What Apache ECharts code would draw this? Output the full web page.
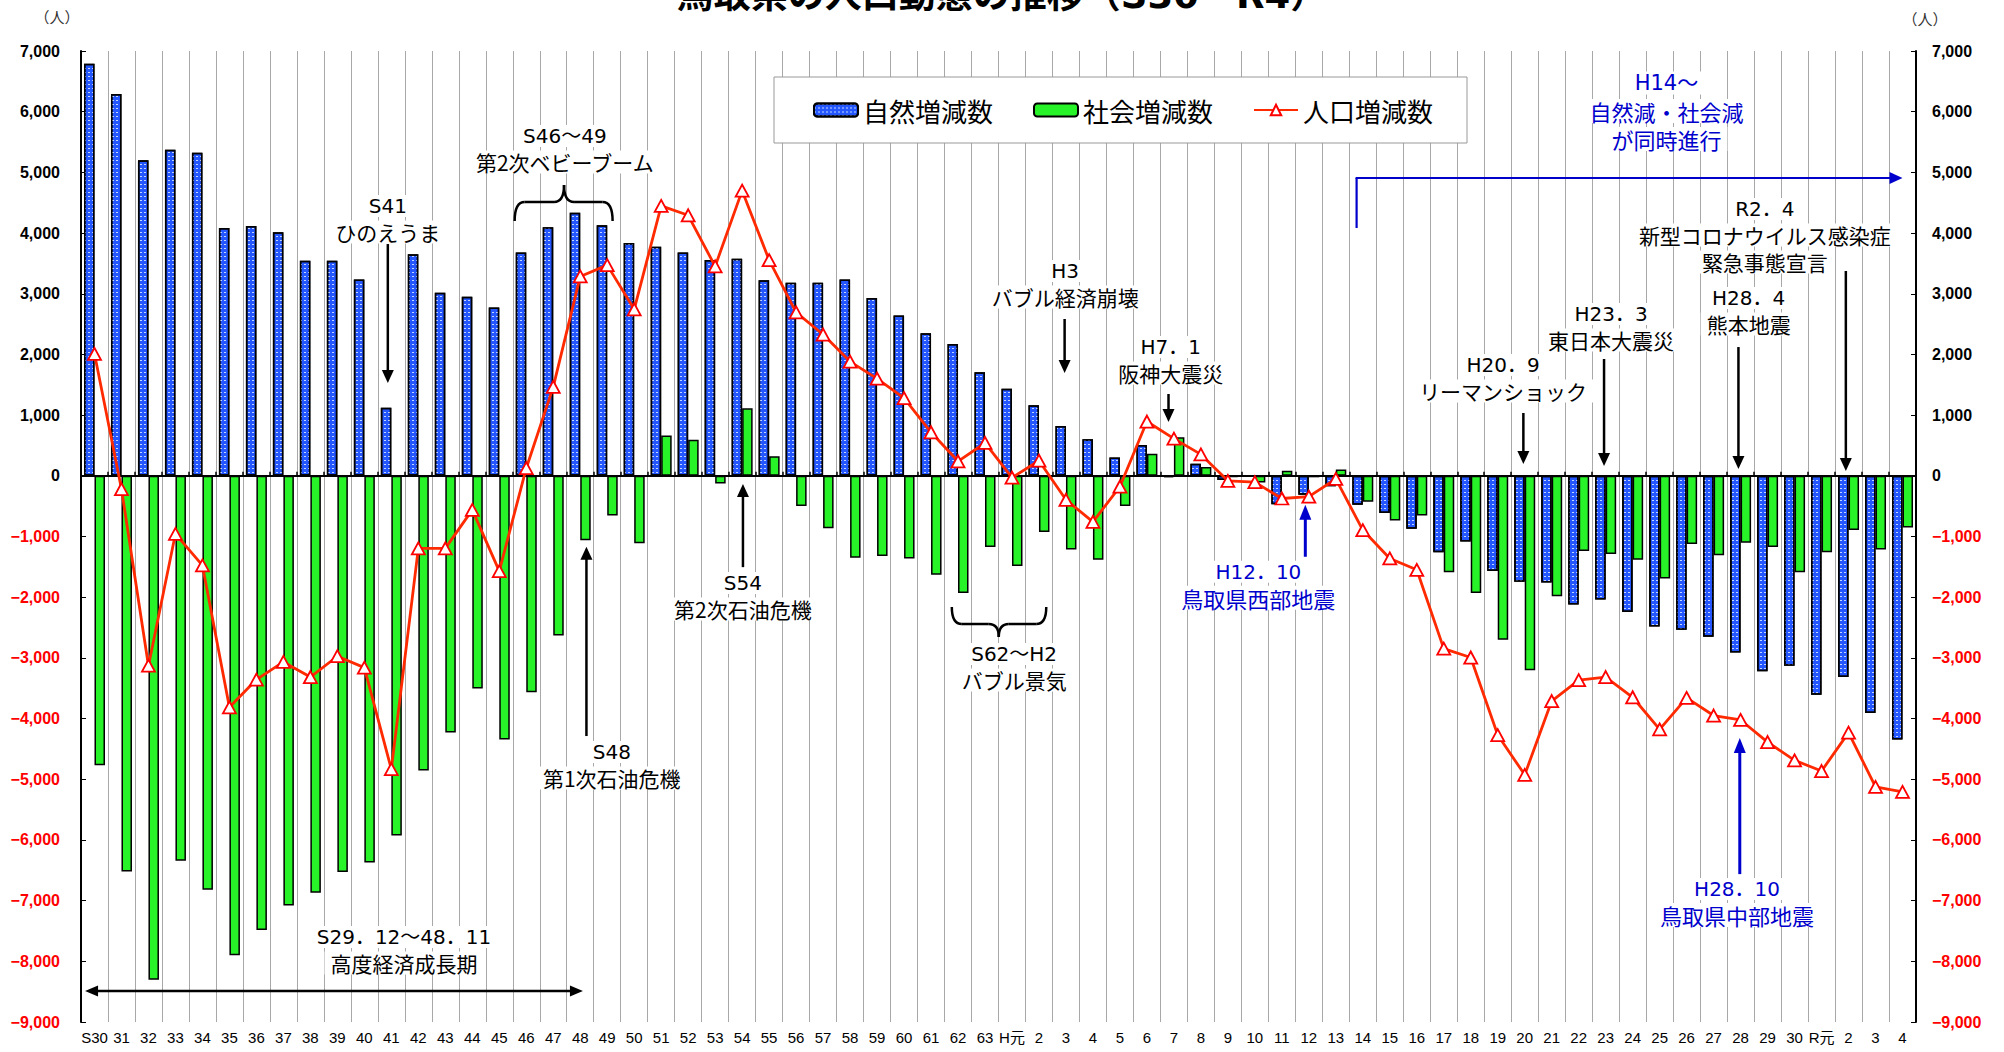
<!DOCTYPE html>
<html><head><meta charset="utf-8">
<script src="https://cdn.jsdelivr.net/npm/echarts@6/dist/echarts.min.js"></script>
<style>html,body{margin:0;padding:0;background:#fff}#c{width:2004px;height:1052px}</style>
</head><body><div id="c"></div>
<script>
const categories = ['S30','S31','S32','S33','S34','S35','S36','S37','S38','S39','S40','S41','S42','S43','S44','S45','S46','S47','S48','S49','S50','S51','S52','S53','S54','S55','S56','S57','S58','S59','S60','S61','S62','S63',
 'H1','H2','H3','H4','H5','H6','H7','H8','H9','H10','H11','H12','H13','H14','H15','H16','H17','H18','H19','H20','H21','H22','H23','H24','H25','H26','H27','H28','H29','H30',
 'R1','R2','R3','R4'];
const tickLabels = ['S30','31','32','33','34','35','36','37','38','39','40','41','42','43','44','45','46','47','48','49','50','51','52','53','54','55','56','57','58','59','60','61','62','63',
 'H元','2','3','4','5','6','7','8','9','10','11','12','13','14','15','16','17','18','19','20','21','22','23','24','25','26','27','28','29','30',
 'R元','2','3','4'];
// 自然増減数
const natural = [6790,6290,5200,5374,5322,4085,4116,4012,3545,3545,3233,1123,3649,3015,2952,2775,3680,4096,4335,4127,3836,3773,3680,3555,3576,3222,3181,3181,3233,2931,2640,2349,2173,1705,
 1435,1164,821,603,301,509,-20,198,-70,-5,-468,-312,-170,-478,-613,-873,-1258,-1081,-1570,-1746,-1757,-2121,-2037,-2245,-2484,-2536,-2651,-2911,-3222,-3129,
 -3607,-3316,-3909,-4345];
// 社会増減数
const social = [-4770,-6520,-8305,-6341,-6819,-7900,-7484,-7079,-6871,-6528,-6372,-5925,-4854,-4231,-3503,-4345,-3565,-2630,-1060,-655,-1112,665,593,-125,1112,322,-499,-863,-1351,-1320,-1362,-1632,-1933,-1175,
 -1486,-925,-1216,-1383,-499,364,634,146,-20,-110,83,-25,105,-426,-738,-655,-1590,-1933,-2703,-3202,-1985,-1237,-1289,-1383,-1694,-1123,-1310,-1102,-1175,-1590,
 -1258,-894,-1216,-852];
// 人口増減数
const total = [2010,-218,-3129,-956,-1476,-3815,-3358,-3067,-3316,-2973,-3160,-4834,-1195,-1195,-561,-1570,125,1466,3285,3472,2744,4449,4293,3451,4699,3555,2692,2328,1882,1601,1279,717,239,541,
 -31,249,-395,-759,-177,894,613,353,-83,-104,-374,-343,-52,-894,-1362,-1549,-2848,-2994,-4272,-4927,-3711,-3368,-3316,-3649,-4179,-3659,-3950,-4023,-4387,-4688,
 -4865,-4231,-5125,-5208];
const seriesNames = ['自然増減数','社会増減数','人口増減数'];
const yMin = -9000, yMax = 7000, yStep = 1000;
const titleText = '鳥取県の人口動態の推移（S30～R4）';

// annotations anchored to (category index, axis value)
const notes = [
  {lines:['S41','ひのえうま'], ix:10.87, v:4445},
  {lines:['S46～49','第2次ベビーブーム'], ix:17.43, v:5599},
  {lines:['S48','第1次石油危機'], ix:19.17, v:-4551},
  {lines:['S54','第2次石油危機'], ix:24.03, v:-1768},
  {lines:['S29．12～48．11','高度経済成長期'], ix:11.47, v:-7599},
  {lines:['S62～H2','バブル景気'], ix:34.08, v:-2936},
  {lines:['H3','バブル経済崩壊'], ix:35.97, v:3375},
  {lines:['H7．1','阪神大震災'], ix:39.88, v:2122},
  {lines:['H12．10','鳥取県西部地震'], ix:43.13, v:-1581, blue:true},
  {lines:['H14～','自然減・社会減','が同時進行'], ix:58.25, v:6472, blue:true, big:true},
  {lines:['H20．9','リーマンショック'], ix:52.2, v:1826},
  {lines:['H23．3','東日本大震災'], ix:56.2, v:2666},
  {lines:['H28．4','熊本地震'], ix:61.3, v:2930},
  {lines:['R2．4','新型コロナウイルス感染症','緊急事態宣言'], ix:61.9, v:4396},
  {lines:['H28．10','鳥取県中部地震'], ix:60.87, v:-6810, blue:true}
];
const arrows = [
  {ix:10.87, from:3819, to:1531},
  {ix:18.23, from:-4288, to:-1170},
  {ix:24.03, from:-1505, to:-135},
  {ix:35.95, from:2584, to:1694},
  {ix:39.8, from:1348, to:887},
  {ix:44.87, from:-1334, to:-477, blue:true},
  {ix:52.95, from:1035, to:194},
  {ix:55.94, from:1925, to:161},
  {ix:60.92, from:2122, to:112},
  {ix:64.9, from:3375, to:79},
  {ix:60.97, from:-6563, to:-4322, blue:true}
];
const braces = [
  {x1:15.57, x2:19.2, xc:17.4, end:4198, mid:4512, tip:4792},
  {x1:31.77, x2:35.27, xc:33.51, end:-2161, mid:-2442, tip:-2656}
];
const rangeArrow = {x1:-0.35, x2:18.1, v:-8489};
const h14Bracket = {ix:46.77, from:4083, top:4907, to:67.0};

const F = "'Noto Sans CJK JP', sans-serif";
const FA = "'DejaVu Sans','Noto Sans CJK JP', sans-serif";
const BLUE = '#0000cc';

const fmt = v => (Number(v) < 0 ? '−' : '') + Math.abs(Number(v)).toLocaleString('en-US');
const col = v => Number(v) < 0 ? '#ff0000' : '#000000';

const chart = echarts.init(document.getElementById('c'), null, {renderer:'svg', width:2004, height:1052});
const yAxisBase = {
  type:'value', min:yMin, max:yMax, interval:yStep,
  axisLine:{show:true, lineStyle:{color:'#000', width:2}},
  axisTick:{show:true, inside:true, length:5, lineStyle:{color:'#000', width:1}},
  splitLine:{show:false}
};
const option = {
  animation:false,
  backgroundColor:'#ffffff',
  textStyle:{fontFamily:F},
  grid:{left:81, right:88, top:51, bottom:30, containLabel:false},
  legend:{
    data:seriesNames, left:774, top:77, orient:'horizontal',
    padding:[20,34,20,39], itemWidth:44, itemHeight:13, itemGap:40,
    backgroundColor:'#fff', borderColor:'#999', borderWidth:1,
    textStyle:{fontSize:26, fontFamily:F, color:'#000'}
  },
  xAxis:[
    {type:'category', data:categories, position:'bottom', boundaryGap:true,
     axisLine:{show:false, onZero:false}, axisTick:{show:false},
     axisLabel:{interval:0, margin:8, fontSize:15, color:'#000', hideOverlap:false,
       fontFamily:"'Liberation Sans','Noto Sans CJK JP',sans-serif",
       formatter:(v,i)=>tickLabels[i]},
     splitLine:{show:true, interval:0, lineStyle:{color:'#a8a8a8', width:1}}},
    {type:'category', data:categories, position:'top', boundaryGap:true,
     axisLine:{show:true, onZero:true, lineStyle:{color:'#000', width:2}},
     axisTick:{show:true, interval:0, length:4, lineStyle:{color:'#000', width:1.5}},
     axisLabel:{show:false}, splitLine:{show:false}}
  ],
  yAxis:[
    Object.assign({}, yAxisBase, {position:'left',
      axisLabel:{margin:21, fontSize:16, fontWeight:'bold', fontFamily:"'Liberation Sans',Arial,sans-serif", formatter:fmt, color:col}}),
    Object.assign({}, yAxisBase, {position:'right',
      axisLabel:{margin:16, fontSize:16, fontWeight:'bold', fontFamily:"'Liberation Sans',Arial,sans-serif", formatter:fmt, color:col}})
  ],
  series:[
    {name:seriesNames[0], type:'bar', data:natural, xAxisIndex:0, yAxisIndex:0, barWidth:10.5, barGap:'0%', z:2,
     itemStyle:{color:'#2457ff', borderColor:'#000', borderWidth:1.5,
       decal:{symbol:'rect', symbolSize:1, color:'#c4d5ff', dashArrayX:[2,2], dashArrayY:[1,3]}}},
    {name:seriesNames[1], type:'bar', data:social, xAxisIndex:0, yAxisIndex:0, barWidth:10.5, barGap:'0%', z:2,
     itemStyle:{color:'#28f228', borderColor:'#000', borderWidth:1.5}},
    {name:seriesNames[2], type:'line', data:total, xAxisIndex:0, yAxisIndex:0, z:5,
     symbol:'triangle', symbolSize:[13,12], showAllSymbol:true,
     lineStyle:{color:'#ff2a00', width:2.8}, color:'#ff2a00',
     itemStyle:{color:'#ffffff', borderColor:'#ff0000', borderWidth:1.8}}
  ]
};
chart.setOption(option);

const x0 = chart.convertToPixel({xAxisIndex:0}, 0);
const x1p = chart.convertToPixel({xAxisIndex:0}, 1);
const step = x1p - x0;
const X = i => x0 + i*step;
const Y = v => chart.convertToPixel({yAxisIndex:0}, v);

const els = [];
function line(xa, ya, xb, yb, color, lw, z){
  els.push({type:'line', z:z||10, shape:{x1:xa,y1:ya,x2:xb,y2:yb}, style:{stroke:color, lineWidth:lw, fill:'none'}});
}
function bez(xa, ya, cx, cy, xb, yb, color, lw){
  els.push({type:'bezierCurve', z:10, shape:{x1:xa,y1:ya,cpx1:cx,cpy1:cy,x2:xb,y2:yb}, style:{stroke:color, lineWidth:lw, fill:'none'}});
}
function head(xt, yt, dx, dy, color, w, l){
  const bx = xt - dx*l, by = yt - dy*l;
  const px = -dy, py = dx;
  els.push({type:'polygon', z:10, shape:{points:[[bx+px*w/2, by+py*w/2],[bx-px*w/2, by-py*w/2],[xt,yt]]}, style:{fill:color}});
}
arrows.forEach(a=>{
  const c = a.blue ? BLUE : '#000';
  const x = X(a.ix), ya = Y(a.from), yb = Y(a.to);
  const d = yb > ya ? 1 : -1;
  const hl = a.blue ? 15 : 13, hw = 12;
  line(x, ya, x, yb - d*hl + d*1, c, a.blue ? 3 : 2.5);
  head(x, yb, 0, d, c, hw, hl);
});
braces.forEach(b=>{
  const xl = X(b.x1), xr = X(b.x2), xc = X(b.xc);
  const ye = Y(b.end), ym = Y(b.mid), yt = Y(b.tip);
  const r = 10, c = '#000', lw = 2.5;
  bez(xl, ye, xl, ym, xl+r, ym, c, lw);
  line(xl+r, ym, xc-r, ym, c, lw);
  bez(xc-r, ym, xc, ym, xc, yt, c, lw);
  bez(xc, yt, xc, ym, xc+r, ym, c, lw);
  line(xc+r, ym, xr-r, ym, c, lw);
  bez(xr-r, ym, xr, ym, xr, ye, c, lw);
});
(function(){
  const xa = X(rangeArrow.x1), xb = X(rangeArrow.x2), y = Y(rangeArrow.v);
  line(xa+12, y, xb-12, y, '#000', 2.5);
  head(xa, y, -1, 0, '#000', 11, 13);
  head(xb, y, 1, 0, '#000', 11, 13);
})();
(function(){
  const x = X(h14Bracket.ix), yb = Y(h14Bracket.from), yt = Y(h14Bracket.top), xe = X(h14Bracket.to);
  line(x, yb, x, yt, BLUE, 2.2);
  line(x-1, yt, xe-12, yt, BLUE, 2.2);
  head(xe, yt, 1, 0, BLUE, 12, 13);
})();
// text notes: one text element per line, white box behind
notes.forEach(n=>{
  const c = n.blue ? BLUE : '#000';
  const s1 = n.big ? 21 : 20, s2 = n.big ? 22 : (n.blue ? 22 : 21);
  const lh1 = n.big ? 28 : 25, lh2 = n.big ? 28 : 27;
  let yc = Y(n.v);
  n.lines.forEach((t,i)=>{
    const fs = i===0 ? s1 : s2;
    if (i>0) yc += (i===1 ? (lh1+lh2)/2 : lh2);
    els.push({type:'text', z:1,
      style:{x:X(n.ix), y:yc, text:t,
        align:'center', textAlign:'center', verticalAlign:'middle', textVerticalAlign:'middle',
        backgroundColor:'#fff', padding:[1,6,1,6], fill:c, fontSize:fs,
        fontFamily: i===0 ? FA : F}});
  });
});
els.push({type:'text', z:20, style:{x:1002, y:-5, text:titleText, align:'center', textAlign:'center', verticalAlign:'middle', textVerticalAlign:'middle', fontSize:37, fontWeight:'bold', fontFamily:FA, fill:'#000'}});
els.push({type:'text', z:20, style:{x:57, y:16, text:'（人）', align:'center', textAlign:'center', verticalAlign:'middle', textVerticalAlign:'middle', fontSize:15, fontFamily:F, fill:'#333'}});
els.push({type:'text', z:20, style:{x:1925, y:18, text:'（人）', align:'center', textAlign:'center', verticalAlign:'middle', textVerticalAlign:'middle', fontSize:15, fontFamily:F, fill:'#333'}});

chart.setOption({graphic:{elements:els}});
</script>
</body></html>
